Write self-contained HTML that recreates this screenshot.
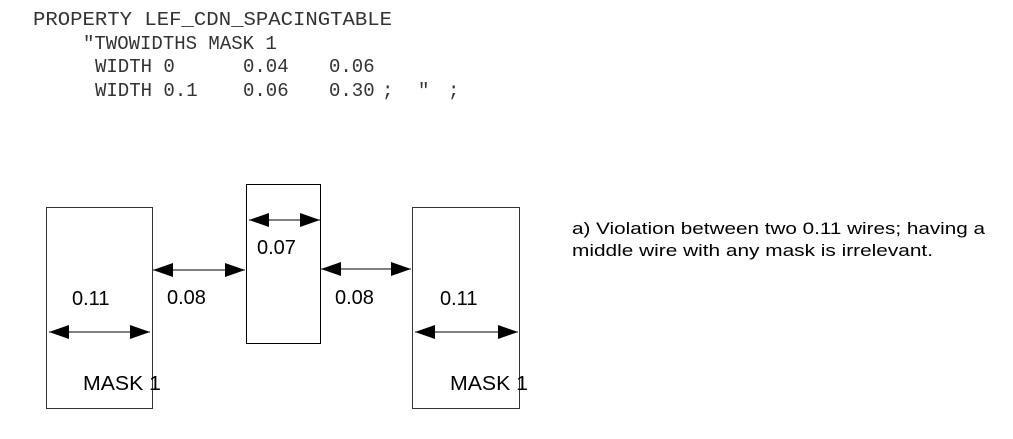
<!DOCTYPE html>
<html><head><style>
html,body{margin:0;padding:0;background:#fff;width:1013px;height:439px;overflow:hidden}
.m{white-space:pre}
</style></head><body>
<svg width="1013" height="439" xmlns="http://www.w3.org/2000/svg">
<defs>
<marker id="a" viewBox="0 0 20 14" refX="20" refY="7" markerWidth="20" markerHeight="14" markerUnits="userSpaceOnUse" orient="auto-start-reverse"><path d="M0,0 L20,7 L0,14 Z" fill="#000"/></marker>
</defs>
<g font-family="Liberation Mono, monospace" font-size="19" fill="#333" class="m">
<text x="33" y="25" class="m" textLength="359" lengthAdjust="spacingAndGlyphs">PROPERTY LEF_CDN_SPACINGTABLE</text>
<text x="83" y="49" class="m">"TWOWIDTHS MASK 1</text>
<text x="95" y="72" class="m">WIDTH 0</text>
<text x="243" y="72" class="m">0.04</text>
<text x="329" y="72" class="m">0.06</text>
<text x="95" y="96" class="m">WIDTH 0.1</text>
<text x="243" y="96" class="m">0.06</text>
<text x="329" y="96" class="m">0.30</text>
<text x="382" y="96" class="m">;</text>
<text x="418" y="96" class="m">"</text>
<text x="448" y="96" class="m">;</text>
</g>
<g fill="none" stroke="#000" stroke-width="1">
<rect x="46.5" y="207.5" width="106" height="201" stroke="#333"/>
<rect x="246.5" y="184.5" width="74" height="159"/>
<rect x="412.5" y="207.5" width="107" height="201" stroke="#333"/>
<line x1="153" y1="270" x2="245" y2="270" marker-start="url(#a)" marker-end="url(#a)"/>
<line x1="321" y1="269" x2="411" y2="269" marker-start="url(#a)" marker-end="url(#a)"/>
<line x1="249" y1="220" x2="320" y2="220" marker-start="url(#a)" marker-end="url(#a)"/>
<line x1="49" y1="332" x2="150" y2="332" marker-start="url(#a)" marker-end="url(#a)"/>
<line x1="415" y1="332" x2="518" y2="332" marker-start="url(#a)" marker-end="url(#a)"/>
</g>
<g font-family="Liberation Sans, sans-serif" font-size="20" fill="#000">
<text x="72" y="305">0.11</text>
<text x="167" y="304">0.08</text>
<text x="257" y="254">0.07</text>
<text x="335" y="304">0.08</text>
<text x="440" y="305">0.11</text>
<text x="83" y="390" textLength="78" lengthAdjust="spacingAndGlyphs">MASK 1</text>
<text x="450" y="390" textLength="78" lengthAdjust="spacingAndGlyphs">MASK 1</text>
</g>
<g font-family="Liberation Sans, sans-serif" font-size="17" fill="#000">
<text x="572" y="234" textLength="413" lengthAdjust="spacingAndGlyphs">a) Violation between two 0.11 wires; having a</text>
<text x="572" y="256" textLength="361" lengthAdjust="spacingAndGlyphs">middle wire with any mask is irrelevant.</text>
</g>
</svg>
</body></html>
